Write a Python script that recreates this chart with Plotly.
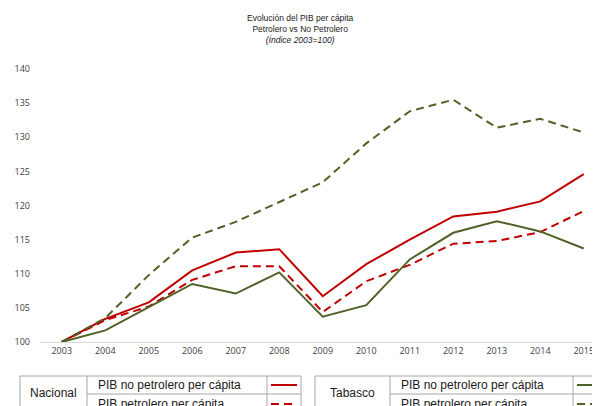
import plotly.graph_objects as go

years = [2003, 2004, 2005, 2006, 2007, 2008, 2009, 2010, 2011, 2012, 2013, 2014, 2015]
nac_no_petrolero = [100, 103.4, 105.8, 110.5, 113.1, 113.6, 106.7, 111.4, 115.0, 118.4, 119.1, 120.6, 124.6]
nac_petrolero = [100, 103.2, 105.2, 109.1, 111.1, 111.1, 104.4, 108.9, 111.3, 114.4, 114.8, 116.1, 119.2]
tab_no_petrolero = [100, 101.7, 105.1, 108.5, 107.1, 110.2, 103.7, 105.4, 112.1, 116.0, 117.7, 116.2, 113.7]
tab_petrolero = [100, 103.5, 109.8, 115.3, 117.6, 120.5, 123.4, 129.1, 133.8, 135.5, 131.4, 132.7, 130.7]
y_ticks = [100, 105, 110, 115, 120, 125, 130, 135, 140]

RED = "#C00000"
GREEN = "#4F6228"
DASH = "8px,5px"
FONT = "Liberation Sans"

# the page body has an 8px margin: work in window pixels, convert to figure pixels
OFF = 8
W, H = 600 - OFF, 406 - OFF
PLOT_L, PLOT_R, PLOT_T, PLOT_B = 40, 600, 69, 342   # window pixels
L, R, T, B = PLOT_L - OFF, 600 - PLOT_R, PLOT_T - OFF, 406 - PLOT_B
PW, PH = W - L - R, H - T - B


def px(x):
    return (x - PLOT_L) / PW


def py(y):
    return (PLOT_B - y) / PH


fig = go.Figure()
series = [
    (nac_no_petrolero, RED, "solid", "Nacional PIB no petrolero per cápita"),
    (nac_petrolero, RED, DASH, "Nacional PIB petrolero per cápita"),
    (tab_no_petrolero, GREEN, "solid", "Tabasco PIB no petrolero per cápita"),
    (tab_petrolero, GREEN, DASH, "Tabasco PIB petrolero per cápita"),
]
for vals, col, dash, name in series:
    fig.add_trace(go.Scatter(x=years, y=vals, mode="lines", name=name,
                             line=dict(color=col, width=2, dash=dash)))

shapes = []
annotations = []
border = dict(color="#A6A6A6", width=1)


def line(x0, y0, x1, y1, style=None):
    shapes.append(dict(type="line", xref="paper", yref="paper",
                       x0=px(x0), y0=py(y0), x1=px(x1), y1=py(y1),
                       line=style or border))


def text(x, y, s, anchor="left"):
    annotations.append(dict(xref="paper", yref="paper", x=px(x), y=py(y),
                            text=s, showarrow=False, xanchor=anchor, yanchor="middle",
                            font=dict(family=FONT, size=12, color="#1a1a1a")))


top, mid, bot = 376, 394, 414
for (bx0, bd1, bd2, bx1, label, col) in [(20, 87, 267, 301, "Nacional", RED),
                                          (315, 390, 573, 640, "Tabasco", GREEN)]:
    line(bx0, top, bx1, top)
    line(bx0, top, bx0, bot)
    line(bd1, top, bd1, bot)
    line(bd2, top, bd2, bot)
    line(bx1, top, bx1, bot)
    line(bd1, mid, bx1, mid)
    text((bx0 + bd1) / 2, 393, label, anchor="center")
    text(bd1 + 9, 385, "PIB no petrolero per cápita")
    text(bd1 + 9, 404, "PIB petrolero per cápita")
    line(bd2 + 4, 385, bd2 + 30, 385, dict(color=col, width=2))
    line(bd2 + 4, 404, bd2 + 30, 404, dict(color=col, width=2, dash=DASH))

annotations.append(dict(
    xref="paper", yref="paper", x=px(300), y=py(11), xanchor="center", yanchor="top",
    text="Evolución del PIB per cápita<br>Petrolero vs No Petrolero<br><i>(Índice 2003=100)</i>",
    showarrow=False, align="center",
    font=dict(family=FONT, size=8.5, color="#1a1a1a")))

fig.update_layout(
    width=W, height=H,
    margin=dict(l=L, r=R, t=T, b=B, autoexpand=False),
    paper_bgcolor="white", plot_bgcolor="white",
    showlegend=False,
    xaxis=dict(range=[2002.5, 2002.5 + PW / 43.5], tickvals=years, ticktext=[str(y) for y in years],
               showgrid=False, zeroline=False, showline=True, linecolor="#D9D9D9", linewidth=1,
               ticks="", automargin=False, tickfont=dict(family="Open Sans", size=9, color="#404040")),
    yaxis=dict(range=[100, 140], tickvals=y_ticks, showgrid=False, zeroline=False, showline=False,
               ticks="", ticklabelstandoff=9, automargin=False,
               tickfont=dict(family="Open Sans", size=9, color="#404040")),
    shapes=shapes, annotations=annotations,
)

fig.write_html("out.html")
